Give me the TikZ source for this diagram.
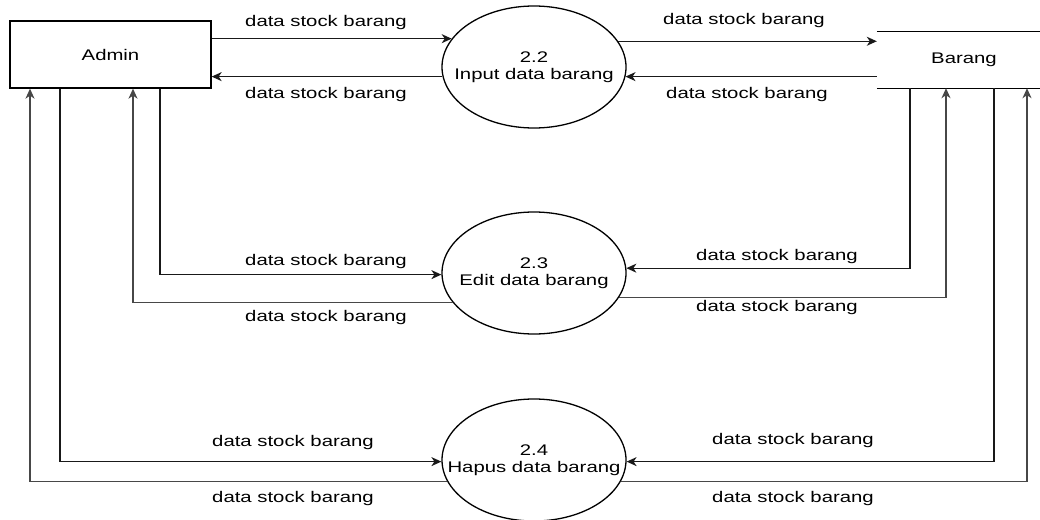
\documentclass[tikz,border=0pt]{standalone}
\usepackage{fontspec}
\setmainfont{Liberation Sans}[FakeStretch=1.32]
\usetikzlibrary{shapes.geometric,arrows.meta}
\begin{document}
\begin{tikzpicture}[x=1pt,y=-1pt,
  font=\fontsize{15.4}{17}\selectfont,
  tip/.style={-{Stealth[length=10pt,width=9pt,inset=3pt]}},
  conn/.style={line width=1.3pt, draw=black!90, tip},
  connb/.style={line width=1.3pt, draw=black!72, tip},
  entity/.style={draw, line width=1.3pt, minimum width=201pt, minimum height=67pt, inner sep=0pt},
  proc/.style={ellipse, draw, line width=1.3pt, minimum width=184pt, minimum height=122pt, inner sep=0pt},
  ptext/.style={align=center, inner sep=0pt},
  lbl/.style={inner sep=0pt}]
\useasboundingbox (0,0) rectangle (1040,519);

% entities
\node[entity] (admin) at (110.5,54.5) {Admin};
\node[minimum width=174pt, minimum height=56pt, inner sep=0pt] (barang) at (964,60) {Barang};
\draw[line width=1.3pt] (barang.north west) -- (barang.north east);
\draw[line width=1.3pt] (barang.south west) -- (barang.south east);

% processes
\node[proc] (p22) at (534,67) {};
\node[ptext] (t22) at (p22.center) {2.2\\Input data barang};
\node[proc] (p23) at (534,273) {};
\node[ptext] (t23) at (p23.center) {2.3\\Edit data barang};
\node[proc] (p24) at (534,460) {};
\node[ptext] (t24) at (p24.center) {2.4\\Hapus data barang};

% flows Admin <-> 2.2
\draw[conn] (admin.east |- p22.161) -- (p22.161);
\draw[conn] (p22.186) -- (admin.east |- p22.186);
% flows 2.2 <-> Barang
\draw[conn] (p22.17) -- (barang.west |- p22.17);
\draw[conn] (barang.west |- p22.354) -- (p22.354);

% flows Admin <-> 2.3, 2.4
\draw[conn] ([xshift=49.5pt]admin.south) |- (p23.181);
\draw[connb] (p23.200) -| ([xshift=22.5pt]admin.south);
\draw[conn] ([xshift=-50.5pt]admin.south) |- (p24.181);
\draw[connb] (p24.194) -| ([xshift=-80.5pt]admin.south);

% flows Barang <-> 2.3, 2.4
\draw[conn] ([xshift=-54pt]barang.south) |- (p23.3);
\draw[connb] (p23.344) -| ([xshift=-18pt]barang.south);
\draw[conn] ([xshift=30pt]barang.south) |- (p24.359);
\draw[connb] (p24.346) -| ([xshift=63pt]barang.south);

% labels
\node[lbl] (l1) at (326,23) {data stock barang};
\node[lbl] (l2) at (326,95) {data stock barang};
\node[lbl] (l3) at (744,21) {data stock barang};
\node[lbl] (l4) at (747,95) {data stock barang};
\node[lbl] (l5) at (326,262) {data stock barang};
\node[lbl] (l6) at (326,318) {data stock barang};
\node[lbl] (l7) at (777,257) {data stock barang};
\node[lbl] (l8) at (777,308) {data stock barang};
\node[lbl] (l9) at (293,443) {data stock barang};
\node[lbl] (l10) at (293,499) {data stock barang};
\node[lbl] (l11) at (793,441) {data stock barang};
\node[lbl] (l12) at (793,499) {data stock barang};
\end{tikzpicture}
\end{document}
